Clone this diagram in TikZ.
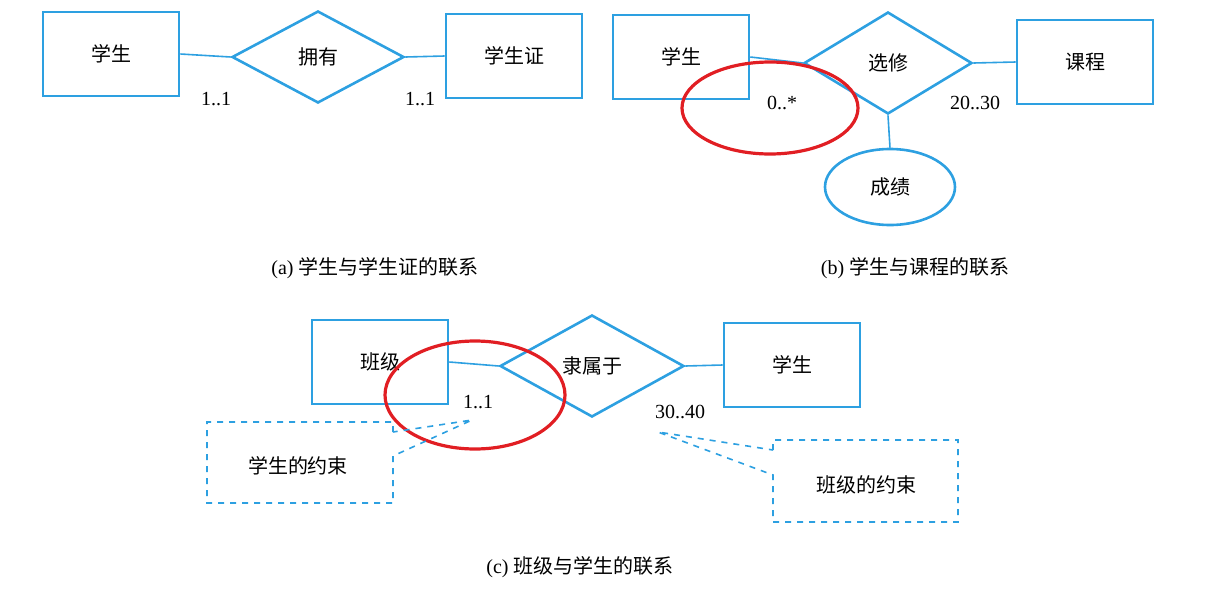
\documentclass[tikz,border=0pt]{standalone}
\usepackage{fontspec}
\setmainfont{Liberation Serif}
\newfontfamily\cjk{Noto Sans CJK SC}
\usetikzlibrary{shapes.geometric}
\definecolor{eblue}{RGB}{45,160,225}
\definecolor{ered}{RGB}{225,30,35}
\tikzset{
  every node/.style={font=\fontsize{10}{12}\selectfont},
  ent/.style={draw=eblue,line width=1.3pt,minimum width=68pt,minimum height=42pt,font=\cjk\fontsize{10}{12}\selectfont},
  rel/.style={draw=eblue,line width=1.3pt,diamond,aspect=1.8,inner sep=0pt,font=\cjk\fontsize{10}{12}\selectfont},
  conn/.style={draw=eblue,line width=0.8pt},
  callout/.style={draw=eblue,line width=0.8pt,dashed},
  redring/.style={draw=ered,line width=1.6pt},
  captext/.style={font=\fontsize{10}{12}\selectfont}
}
\begin{document}
\begin{tikzpicture}[x=0.5pt,y=-0.5pt]
\useasboundingbox (0,0) rectangle (1223,590);
% (a)
\node[ent] (a1) at (111,54) {学生};
\node[rel,minimum width=86pt,minimum height=46pt] (ar) at (318,57) {拥有};
\node[ent] (a2) at (514,56) {学生证};
\draw[conn] (a1.east) -- (ar.west);
\draw[conn] (ar.east) -- (a2.west);
\node (am1) at (216,99) {1..1};
\node (am2) at (420,99) {1..1};
\node[captext] (acap) at (375,268) {(a) {\cjk 学生与学生证的联系}};
% (b)
\node[ent] (b1) at (681,57) {学生};
\node[rel,minimum width=84pt,minimum height=51pt] (br) at (888,63) {选修};
\node[ent] (b2) at (1085,62) {课程};
\draw[conn] (b1.east) -- (br.west);
\draw[conn] (br.east) -- (b2.west);
\node[draw=eblue,line width=1.3pt,ellipse,minimum width=65pt,minimum height=38pt,font=\cjk\fontsize{10}{12}\selectfont] (bat) at (890,187) {成绩};
\draw[conn] (br.south) -- (bat.north);
\node (bm1) at (782,103) {0..*};
\node (bm2) at (975,103) {20..30};
\draw[redring] (770,108) ellipse [x radius=88,y radius=46];
\node[captext] (bcap) at (915,268) {(b) {\cjk 学生与课程的联系}};
% (c)
\node[ent] (c1) at (380,362) {班级};
\node[rel,minimum width=92pt,minimum height=51pt] (cr) at (592,366) {隶属于};
\node[ent] (c2) at (792,365) {学生};
\draw[conn] (c1.east) -- (cr.west);
\draw[conn] (cr.east) -- (c2.west);
\node (cm1) at (478,402) {1..1};
\node (cm2) at (680,412) {30..40};
\draw[redring] (475,395) ellipse [x radius=90,y radius=54];
\coordinate (p1) at (472,420);
\coordinate (p2) at (658,432);
\draw[callout] (393,432) -- (393,422) -- (207,422) -- (207,503) -- (393,503) -- (393,456) -- (p1) -- cycle;
\node[font=\cjk\fontsize{10}{12}\selectfont] (n1) at (298,466) {学生的约束};
\draw[callout] (773,450) -- (773,440) -- (958,440) -- (958,522) -- (773,522) -- (773,475) -- (p2) -- cycle;
\node[font=\cjk\fontsize{10}{12}\selectfont] (n2) at (866,485) {班级的约束};
\node[captext] (ccap) at (580,567) {(c) {\cjk 班级与学生的联系}};
\end{tikzpicture}
\end{document}
